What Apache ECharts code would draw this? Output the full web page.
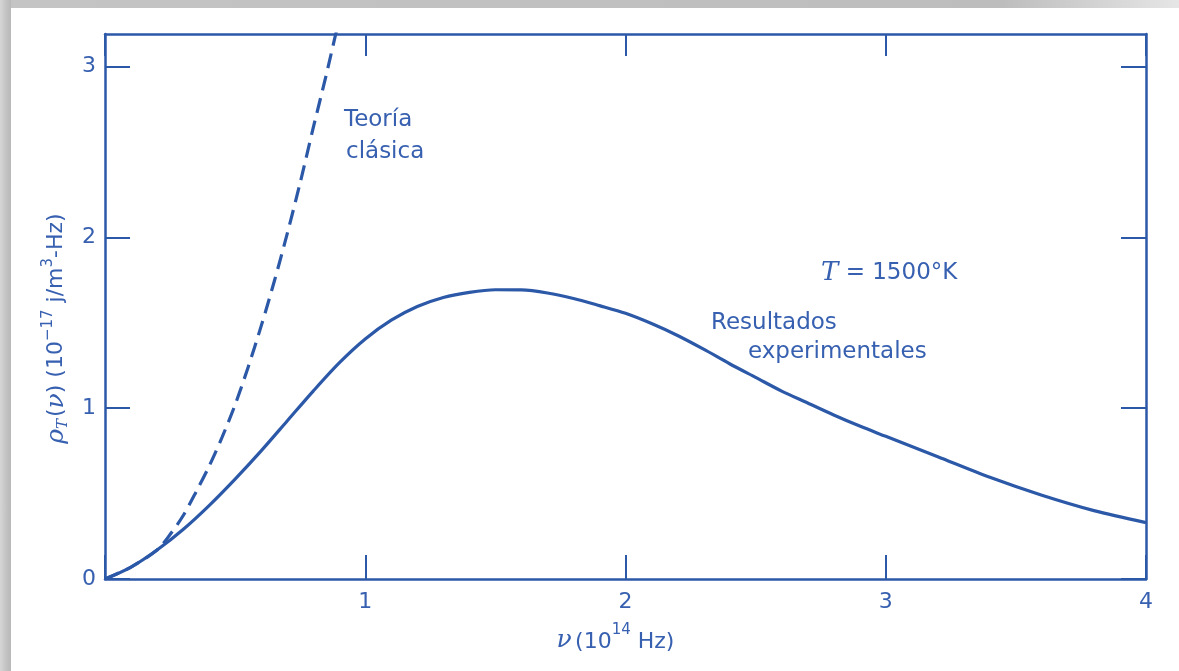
<!DOCTYPE html>
<html>
<head>
<meta charset="utf-8">
<script src="https://cdn.jsdelivr.net/npm/echarts@6/dist/echarts.min.js"></script>
<style>
  html, body { margin:0; padding:0; width:1179px; height:671px; background:#ffffff; overflow:hidden; }
  #topStrip { position:absolute; left:0; top:0; width:1179px; height:8px;
    background:linear-gradient(to right,#c4c4c4 0%,#bdbdbd 85%,#e6e6e6 100%); }
  #leftStrip { position:absolute; left:0; top:0; width:11px; height:671px;
    background:linear-gradient(to right,#d6d6d6 0%,#c2c2c2 60%,#b8b8b8 100%); }
  #chart { position:absolute; left:0; top:0; width:1179px; height:671px; }
</style>
</head>
<body>
<div id="topStrip"></div>
<div id="leftStrip"></div>
<div id="chart"></div>
<script>
// Frequency (10^14 Hz) and energy density (10^-17 j/m^3-Hz)
const expFreq   = [0, 0.1, 0.2, 0.3, 0.4, 0.5, 0.6, 0.7, 0.8, 0.9, 1.0, 1.1, 1.2, 1.3, 1.4, 1.5, 1.6, 1.7, 1.8, 1.9, 2.0, 2.1, 2.2, 2.3, 2.4, 2.5, 2.6, 2.7, 2.8, 2.9, 3.0, 3.2, 3.4, 3.6, 3.8, 4.0];
const expValues = [0, 0.07, 0.17, 0.29, 0.43, 0.585, 0.75, 0.925, 1.10, 1.265, 1.405, 1.515, 1.595, 1.648, 1.678, 1.693, 1.692, 1.674, 1.642, 1.60, 1.555, 1.495, 1.425, 1.345, 1.26, 1.18, 1.10, 1.03, 0.96, 0.895, 0.835, 0.715, 0.595, 0.49, 0.40, 0.33];

const classicFreq   = [0, 0.1, 0.2, 0.25, 0.3, 0.35, 0.4, 0.45, 0.5, 0.55, 0.6, 0.65, 0.7, 0.75, 0.8, 0.85, 0.9];
const classicValues = [0, 0.07, 0.17, 0.26, 0.37, 0.51, 0.66, 0.83, 1.02, 1.24, 1.48, 1.74, 2.02, 2.32, 2.64, 2.95, 3.28];

const xTicks = [0, 1, 2, 3, 4];
const xLabels = [1, 2, 3, 4];
const yTicks = [0, 1, 2, 3];
const yLabels = [0, 1, 2, 3];

const BLUE = '#2c58a8';
const TXT = '#3760b0';
const FONT = '"DejaVu Sans", sans-serif';
const SERIF = '"DejaVu Serif", serif';

const chart = echarts.init(document.getElementById('chart'), null, { renderer: 'canvas' });

const axisLineStyle = { show: true, onZero: false, lineStyle: { color: BLUE, width: 2.5 } };

const option = {
  animation: false,
  grid: { left: 105, right: 33, top: 34, bottom: 92, containLabel: false },
  xAxis: [
    {
      type: 'value', position: 'bottom', min: 0, max: 4, interval: 1,
      axisLine: axisLineStyle,
      axisTick: { show: true, inside: true, length: 24, lineStyle: { color: BLUE, width: 2 }, customValues: xTicks },
      axisLabel: { show: true, color: TXT, fontSize: 22, fontFamily: FONT, margin: 12, customValues: xLabels },
      splitLine: { show: false },
      name: '{i|ν} {n|(10}{sup|14}{n| Hz)}',
      nameLocation: 'middle', nameGap: 44,
      nameTextStyle: {
        color: TXT, padding: [0, 20, 0, 0],
        rich: {
          i: { fontSize: 25, fontFamily: SERIF, fontStyle: 'italic', color: TXT, lineHeight: 30, verticalAlign: 'bottom' },
          n: { fontSize: 22, fontFamily: FONT, color: TXT, lineHeight: 30, verticalAlign: 'bottom' },
          sup: { fontSize: 15, fontFamily: FONT, color: TXT, lineHeight: 30, verticalAlign: 'top' }
        }
      }
    },
    {
      type: 'value', position: 'top', min: 0, max: 4, interval: 1,
      axisLine: axisLineStyle,
      axisTick: { show: true, inside: true, length: 22, lineStyle: { color: BLUE, width: 2 }, customValues: xTicks },
      axisLabel: { show: false },
      splitLine: { show: false }
    }
  ],
  yAxis: [
    {
      type: 'value', position: 'left', min: 0, max: 3.19, interval: 1,
      axisLine: axisLineStyle,
      axisTick: { show: true, inside: true, length: 25, lineStyle: { color: BLUE, width: 2 }, customValues: yTicks },
      axisLabel: { show: true, color: TXT, fontSize: 22, fontFamily: FONT, margin: 9, customValues: yLabels },
      splitLine: { show: false },
      name: '{i|ρ}{sub|T}{n|(}{i|ν}{n|) (10}{sup|−17}{n| j/m}{sup|3}{n|-Hz)}',
      nameLocation: 'middle', nameGap: 34, nameRotate: 90,
      nameTextStyle: {
        color: TXT, padding: [0, 44, 0, 0],
        rich: {
          i: { fontSize: 25, fontFamily: SERIF, fontStyle: 'italic', color: TXT, lineHeight: 30, verticalAlign: 'middle' },
          n: { fontSize: 22, fontFamily: FONT, color: TXT, lineHeight: 30, verticalAlign: 'middle' },
          sub: { fontSize: 15, fontFamily: SERIF, fontStyle: 'italic', color: TXT, lineHeight: 30, verticalAlign: 'bottom', padding: [0, 2, 0, 0] },
          sup: { fontSize: 15, fontFamily: FONT, color: TXT, lineHeight: 30, verticalAlign: 'top' }
        }
      }
    },
    {
      type: 'value', position: 'right', min: 0, max: 3.19, interval: 1,
      axisLine: axisLineStyle,
      axisTick: { show: true, inside: true, length: 25, lineStyle: { color: BLUE, width: 2 }, customValues: yTicks },
      axisLabel: { show: false },
      splitLine: { show: false }
    }
  ],
  series: [
    {
      name: 'Resultados experimentales',
      type: 'line', xAxisIndex: 0, yAxisIndex: 0,
      data: expFreq.map((f, i) => [f, expValues[i]]),
      smooth: 0.3, showSymbol: false, clip: true,
      lineStyle: { color: BLUE, width: 3.2 }
    },
    {
      name: 'Teoría clásica',
      type: 'line', xAxisIndex: 0, yAxisIndex: 0,
      data: classicFreq.map((f, i) => [f, classicValues[i]]),
      smooth: 0.3, showSymbol: false, clip: true,
      lineStyle: { color: BLUE, width: 3.2, type: [15, 8] }
    }
  ],
  graphic: [
    { type: 'text', left: 344, top: 109, style: { text: 'Teoría', font: '23px ' + FONT, fill: TXT } },
    { type: 'text', left: 346, top: 141, style: { text: 'clásica', font: '23px ' + FONT, fill: TXT } },
    { type: 'text', left: 821, top: 260, style: {
        text: '{it|T}{n| = 1500°K}',
        rich: {
          it: { fontSize: 26, fontFamily: SERIF, fontStyle: 'italic', fill: TXT },
          n: { fontSize: 23, fontFamily: FONT, fill: TXT }
        }
    } },
    { type: 'text', left: 711, top: 312, style: { text: 'Resultados', font: '23px ' + FONT, fill: TXT } },
    { type: 'text', left: 748, top: 341, style: { text: 'experimentales', font: '23px ' + FONT, fill: TXT } }
  ]
};

chart.setOption(option);
</script>
</body>
</html>
